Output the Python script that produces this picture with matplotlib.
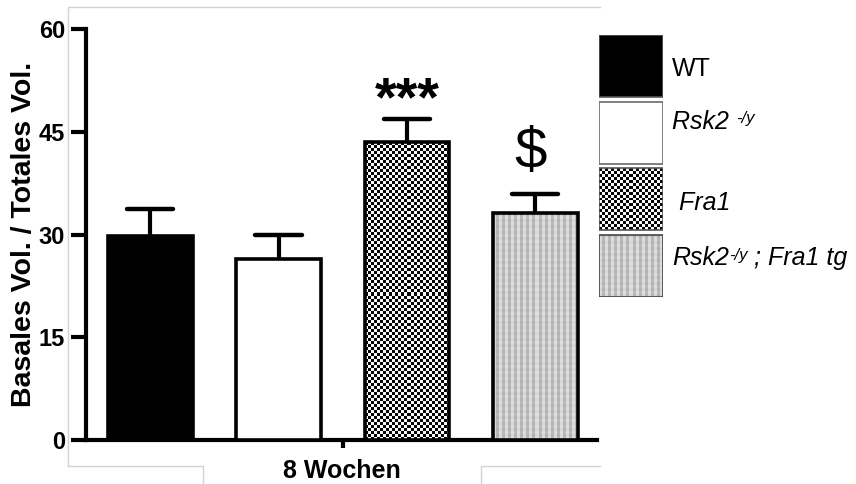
import numpy as np
import matplotlib.pyplot as plt
from matplotlib.patches import Rectangle
from matplotlib.lines import Line2D

plt.rcParams['font.family'] = ['Liberation Sans', 'DejaVu Sans']

# Daten: Mittelwert und SEM je Gruppe (8 Wochen)
# Beschriftung: (Haupttext, Hochstellung, Resttext)
groups = [('WT', '', ''),
          ('Rsk2 ', '-/y', ''),
          (' Fra1', '', ''),
          ('Rsk2', '-/y', ' ; Fra1 tg')]
means = [29.8, 26.4, 43.5, 33.1]
sems = [3.9, 3.5, 3.4, 2.8]
signif = ['', '', '***', '$']
fills = ['black', 'white', 'checker', 'grey']

W, H = 856, 484
CELL = 3.0  # Kantenlaenge der Musterzellen in Pixel

fig = plt.figure(figsize=(W / 100, H / 100), dpi=100)
ax = fig.add_axes([86 / W, 1 - 440 / H, 511 / W, 411 / H])

x = np.arange(len(means))
ax.set_xlim(-0.5, 3.48)
ax.set_ylim(0, 60)


def pattern(kind, nx, ny):
    ii, jj = np.indices((ny, nx))
    if kind == 'checker':
        return ((ii + jj) % 2).astype(float) * 0.95 + 0.02
    return np.where(jj % 2, 0.70, 0.84) + np.where(ii % 2, 0.03, 0.0)


def fill_pattern(axis, rect, kind):
    x0, y0 = rect.get_x(), rect.get_y()
    x1, y1 = x0 + rect.get_width(), y0 + rect.get_height()
    (px0, py0), (px1, py1) = axis.transData.transform([[x0, y0], [x1, y1]])
    nx = max(1, int(round(abs(px1 - px0) / CELL)))
    ny = max(1, int(round(abs(py1 - py0) / CELL)))
    xl, yl = axis.get_xlim(), axis.get_ylim()
    axis.imshow(pattern(kind, nx, ny), cmap='gray', vmin=0, vmax=1,
                extent=[x0, x1, y0, y1], interpolation='nearest',
                aspect='auto', zorder=rect.get_zorder() - 0.1)
    axis.set_xlim(xl)
    axis.set_ylim(yl)


bars = ax.bar(x, means, width=0.66, edgecolor='black', linewidth=2.6,
              zorder=3)
for b, f in zip(bars, fills):
    if f in ('black', 'white'):
        b.set_facecolor(f)
    else:
        b.set_facecolor('none')
        fill_pattern(ax, b, f)

# nur obere Fehlerbalken
tops = np.array(means) + np.array(sems)
ax.vlines(x, means, tops, color='black', linewidth=3, zorder=2)
caps = ax.hlines(tops, x - 0.18, x + 0.18, color='black', linewidth=3.2,
                 zorder=2)
caps.set_capstyle('round')

for xi, t, s in zip(x, tops, signif):
    if s == '***':
        ax.text(xi, t - 1.3, s, ha='center', va='bottom', fontsize=40,
                fontweight='bold')
    elif s:
        ax.text(xi - 0.04, t + 2.1, s, ha='center', va='bottom', fontsize=42)

for side in ('top', 'right'):
    ax.spines[side].set_visible(False)
for side in ('left', 'bottom'):
    ax.spines[side].set_linewidth(3)
    ax.spines[side].set_capstyle('projecting')

ax.set_yticks([0, 15, 30, 45, 60])
ax.tick_params(axis='y', length=11, width=3, pad=4, labelsize=17)
for lbl in ax.get_yticklabels():
    lbl.set_fontweight('bold')
ax.set_xticks([1.5])
ax.set_xticklabels([''])
ax.tick_params(axis='x', length=6, width=3, pad=0)

ax.set_xlabel('8 Wochen', fontsize=18, fontweight='bold', labelpad=8)
ax.set_ylabel('Basales Vol. / Totales Vol.', fontsize=20.5,
              fontweight='bold', labelpad=1)

# Legende als eigene Achse mit grossen Feldern
lax = fig.add_axes([599 / W, 1 - 297 / H, 64 / W, 262 / H])
lax.set_xlim(0, 1)
lax.set_ylim(3.93, 0)
lax.axis('off')
edge_cols = ['#555555', '#6a6a6a', '#555555', '#444444']
text_dy = [0.04, -0.17, 0.05, -0.12]
for i, ((main, sup, rest), f, ec) in enumerate(zip(groups, fills, edge_cols)):
    r = Rectangle((0, i), 1, 0.93, edgecolor=ec, linewidth=1.2, zorder=3,
                  facecolor=f if f in ('black', 'white') else 'none')
    lax.add_patch(r)
    if f not in ('black', 'white'):
        fill_pattern(lax, r, f)
    style = 'normal' if i == 0 else 'italic'
    t1 = lax.text(1.14, i + 0.47 + text_dy[i], main, ha='left', va='center',
                  fontsize=18, fontstyle=style, clip_on=False)
    if sup:
        t2 = lax.annotate(sup, xy=(1.0, 0.95), xycoords=t1, ha='left',
                          va='top', fontsize=12, fontstyle='italic')
        if rest:
            lax.annotate(rest, xy=(1.0, 0.0), xycoords=(t2, t1), ha='left',
                         va='bottom', fontsize=18, fontstyle='italic')

# duenner grauer Rahmen im Hintergrund
frame = dict(color='#d2d2d2', linewidth=1, zorder=0)
fig.add_artist(Line2D(np.array([68, 68, 600]) / W,
                      1 - np.array([466, 7, 7]) / H, **frame))
fig.add_artist(Line2D(np.array([68, 203, 203]) / W,
                      1 - np.array([466, 466, 484]) / H, **frame))
fig.add_artist(Line2D(np.array([481, 481, 600]) / W,
                      1 - np.array([484, 466, 466]) / H, **frame))

plt.savefig('out.png', dpi=100)
